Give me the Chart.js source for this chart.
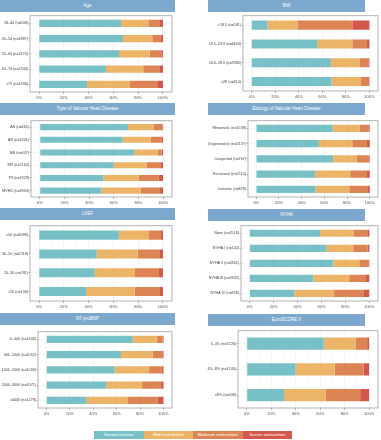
<!DOCTYPE html>
<html>
<head>
<meta charset="utf-8">
<script src="https://cdn.jsdelivr.net/npm/chart.js@4.4.1/dist/chart.umd.min.js"></script>
<style>
  body { margin: 0; width: 381px; height: 440px; background: #fff; position: relative; overflow: hidden;
         font-family: "Liberation Sans", Arial, sans-serif; }
  .hdr { position: absolute; height: 12px; background: #7ba8cc; color: #fff; font-size: 4.5px;
         line-height: 12px; text-align: center; }
  .wrap { position: absolute; }
  #legend { position: absolute; left: 94px; top: 431px; display: flex; height: 8px; }
  #legend div { width: 49.5px; color: #fff; font-size: 4.2px; line-height: 8px; text-align: center; }
</style>
</head>
<body>
<div id="legend"></div>
<script>
// series + colours
const seriesNames = ["Normal nutrition", "Mild malnutrition", "Moderate malnutrition", "Severe malnutrition"];
const seriesColors = ["#77c1c6", "#ebb466", "#dc8453", "#d4584a"];
const xTicks = [0, 10, 20, 30, 40, 50, 60, 70, 80, 90, 100];

// Age
const ageLabels = ["18–44 (n=609)", "45–54 (n=1887)", "55–64 (n=2474)", "65–74 (n=2344)", "≥75 (n=1490)"];
const ageNormal = [66.1, 67.7, 64.5, 54.0, 38.7];
const ageMild = [22.1, 23.7, 24.7, 30.1, 34.7];
const ageModerate = [9.4, 7.0, 9.5, 13.5, 22.6];
const ageSevere = [2.4, 1.6, 1.3, 2.4, 4.0];

// BMI
const bmiLabels = ["<18.5 (n=581)", "18.5–23.9 (n=4403)", "24.0–28.0 (n=2980)", "≥28 (n=814)"];
const bmiNormal = [13.4, 55.7, 67.3, 67.9];
const bmiMild = [25.5, 29.8, 24.7, 25.0];
const bmiModerate = [46.6, 12.5, 7.1, 6.8];
const bmiSevere = [14.5, 2.0, 0.9, 0.3];

// Type of valvular heart disease
const typeLabels = ["AS (n=465)", "AR (n=1341)", "MS (n=447)", "MR (n=2160)", "TR (n=1329)", "MVHD (n=2803)"];
const typeNormal = [71.6, 67.3, 77.0, 60.0, 51.6, 50.0];
const typeMild = [20.8, 22.7, 18.4, 26.8, 28.7, 31.9];
const typeModerate = [7.1, 8.9, 3.5, 11.6, 16.2, 15.7];
const typeSevere = [0.5, 1.1, 1.1, 1.6, 3.5, 2.4];

// Etiology
const etioLabels = ["Rheumatic (n=1538)", "Degenerative (n=2137)", "Congenital (n=767)", "Functional (n=2514)", "Ischemic (n=878)"];
const etioNormal = [67.4, 55.2, 67.7, 51.6, 52.2];
const etioMild = [23.7, 29.4, 21.0, 31.2, 29.7];
const etioModerate = [7.7, 13.0, 10.1, 14.8, 16.6];
const etioSevere = [1.2, 2.4, 1.2, 2.4, 1.5];

// LVEF
const lvefLabels = ["≥50 (n=6099)", "30–50 (n=2118)", "20–30 (n=591)", "<20 (n=130)"];
const lvefNormal = [64.4, 46.6, 45.0, 38.0];
const lvefMild = [24.3, 32.9, 32.4, 39.1];
const lvefModerate = [9.7, 18.1, 19.4, 19.9];
const lvefSevere = [1.6, 2.4, 3.2, 3.0];

// NYHA
const nyhaLabels = ["None (n=2518)", "NYHA I (n=142)", "NYHA II (n=2862)", "NYHA III (n=2832)", "NYHA IV (n=858)"];
const nyhaNormal = [58.8, 64.4, 70.0, 53.2, 37.3];
const nyhaMild = [28.3, 22.2, 21.6, 30.0, 33.3];
const nyhaModerate = [11.2, 12.0, 8.1, 14.0, 24.4];
const nyhaSevere = [1.7, 1.4, 0.3, 2.8, 5.0];

// NT-proBNP
const bnpLabels = ["0–400 (n=1343)", "401–1000 (n=1052)", "1001–2000 (n=1033)", "2000–4000 (n=1071)", "≥4000 (n=1279)"];
const bnpNormal = [73.7, 63.7, 58.3, 50.9, 34.3];
const bnpMild = [20.6, 27.2, 29.4, 30.8, 34.8];
const bnpModerate = [5.1, 8.0, 10.9, 16.3, 26.0];
const bnpSevere = [0.6, 1.1, 1.4, 2.0, 4.9];

// EuroSCORE II
const euroLabels = ["0–4% (n=7226)", "4%–8% (n=1245)", "≥8% (n=308)"];
const euroNormal = [62.9, 39.8, 30.4];
const euroMild = [26.0, 32.0, 34.1];
const euroModerate = [9.5, 23.6, 28.2];
const euroSevere = [1.6, 4.6, 7.3];

// layout: header strip + plot box (px)
const panels = [
  { title: "Age", labels: ageLabels, data: [ageNormal, ageMild, ageModerate, ageSevere],
    col: 0, hTop: 0, box: [30, 15, 172, 92] },
  { title: "BMI", labels: bmiLabels, data: [bmiNormal, bmiMild, bmiModerate, bmiSevere],
    col: 1, hTop: 0, box: [243, 15, 378, 91] },
  { title: "Type of Valvular Heart Disease", labels: typeLabels, data: [typeNormal, typeMild, typeModerate, typeSevere],
    col: 0, hTop: 103, box: [31, 120, 172, 197] },
  { title: "Etiology of Valvular Heart Disease", labels: etioLabels, data: [etioNormal, etioMild, etioModerate, etioSevere],
    col: 1, hTop: 103, box: [248, 120, 378, 197] },
  { title: "LVEF", labels: lvefLabels, data: [lvefNormal, lvefMild, lvefModerate, lvefSevere],
    col: 0, hTop: 208, box: [30, 225, 172, 301] },
  { title: "NYHA", labels: nyhaLabels, data: [nyhaNormal, nyhaMild, nyhaModerate, nyhaSevere],
    col: 1, hTop: 209, box: [241, 225, 378, 301] },
  { title: "NT-proBNP", labels: bnpLabels, data: [bnpNormal, bnpMild, bnpModerate, bnpSevere],
    col: 0, hTop: 313, box: [38, 331, 172, 408] },
  { title: "EuroSCORE II", labels: euroLabels, data: [euroNormal, euroMild, euroModerate, euroSevere],
    col: 1, hTop: 314, box: [238, 330, 378, 408] },
];

// panel border like ggplot theme_bw
const boxBorder = {
  id: "boxBorder",
  afterDraw(chart) {
    const a = chart.chartArea, c = chart.ctx;
    c.save();
    c.strokeStyle = "#a0a0a0";
    c.lineWidth = 0.8;
    c.strokeRect(a.left, a.top, a.right - a.left, a.bottom - a.top);
    c.restore();
  },
};

panels.forEach((p) => {
  const hdr = document.createElement("div");
  hdr.className = "hdr";
  hdr.textContent = p.title;
  hdr.style.left = (p.col ? 208 : 0) + "px";
  hdr.style.width = (p.col ? 157 : 175) + "px";
  hdr.style.top = p.hTop + "px";
  document.body.appendChild(hdr);

  const [bl, bt, br, bb] = p.box;
  const left = p.col ? 190 : 0;
  const top = bt - 2;
  const w = br + 2 - left;
  const h = bb - bt + 2 + 9;
  const wrap = document.createElement("div");
  wrap.className = "wrap";
  Object.assign(wrap.style, { left: left + "px", top: top + "px", width: w + "px", height: h + "px" });
  const cv = document.createElement("canvas");
  wrap.appendChild(cv);
  document.body.appendChild(wrap);

  new Chart(cv, {
    type: "bar",
    data: {
      labels: p.labels,
      datasets: p.data.map((d, i) => ({
        label: seriesNames[i],
        data: d,
        backgroundColor: seriesColors[i],
        borderWidth: 0,
        barPercentage: 0.48,
        categoryPercentage: 1,
      })),
    },
    options: {
      indexAxis: "y",
      responsive: true,
      maintainAspectRatio: false,
      animation: false,
      layout: { padding: { top: 2, right: 2, left: 0, bottom: 0 } },
      plugins: { legend: { display: false }, tooltip: { enabled: false } },
      scales: {
        x: {
          type: "linear",
          stacked: true,
          min: -7.3,
          max: 107.3,
          afterBuildTicks: (s) => { s.ticks = xTicks.map((v) => ({ value: v })); },
          afterFit: (s) => { s.height = 9; },
          border: { display: false },
          grid: {
            color: (c) => (c.tick && c.tick.value % 20 === 0 ? "#e8e8e8" : "#f4f4f4"),
            lineWidth: 0.5,
            tickLength: 2,
            tickColor: (c) => (c.tick && c.tick.value % 20 === 0 ? "#666" : "rgba(0,0,0,0)"),
          },
          ticks: {
            autoSkip: false,
            maxRotation: 0,
            padding: 1,
            color: "#555",
            font: { size: 4, family: "Liberation Sans" },
            callback: (v) => (v % 20 === 0 ? v + "%" : ""),
          },
        },
        y: {
          stacked: true,
          afterFit: (s) => { s.width = bl - left; },
          border: { display: false },
          grid: { offset: false, color: "#ececec", lineWidth: 0.5, tickLength: 1.5, tickColor: "#666" },
          ticks: { padding: 0.5, color: "#444", font: { size: 3.7, family: "Liberation Sans" } },
        },
      },
    },
    plugins: [boxBorder],
  });
});

// legend strip
const lg = document.getElementById("legend");
seriesNames.forEach((n, i) => {
  const d = document.createElement("div");
  d.textContent = n;
  d.style.background = seriesColors[i];
  lg.appendChild(d);
});
</script>
</body>
</html>
